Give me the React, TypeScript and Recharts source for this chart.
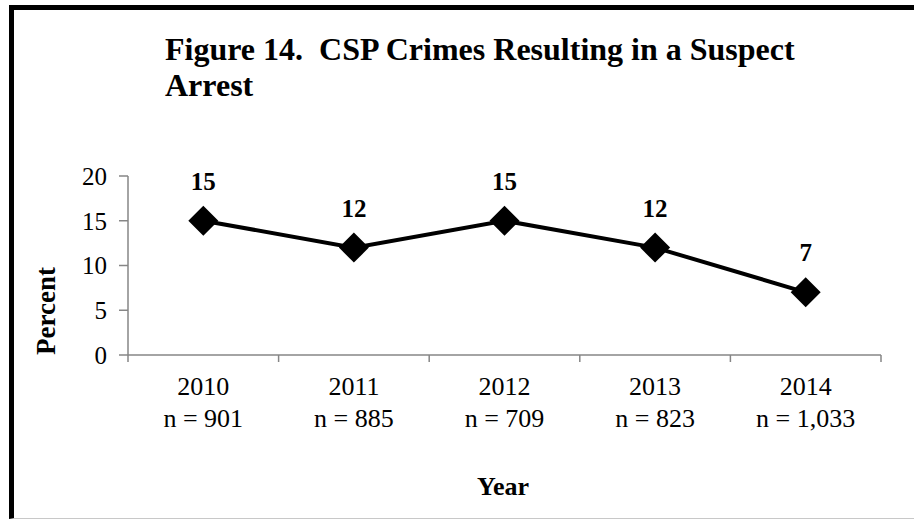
import { LineChart, Line, XAxis, YAxis, LabelList } from 'recharts'

const years = ['2010', '2011', '2012', '2013', '2014']
const counts = ['n = 901', 'n = 885', 'n = 709', 'n = 823', 'n = 1,033']
const percents = [15, 12, 15, 12, 7]
const yTicks = [0, 5, 10, 15, 20]

const data = years.map((year, i) => ({ year, n: counts[i], pos: i + 0.5, pct: percents[i] }))
// boundaries between categories carry the tick marks, centres carry the labels
const xTicks = [...years.map((_, i) => i), years.length, ...data.map(d => d.pos)].sort((a, b) => a - b)

const font = '"Liberation Serif", "Times New Roman", serif'
const axisColor = '#868686'

const XTick = (props: any) => {
  const { x, y, payload } = props
  const v = payload.value
  if (Number.isInteger(v)) {
    return <line x1={x} x2={x} y1={y} y2={y + 7} stroke={axisColor} strokeWidth={1.5} />
  }
  const d = data[Math.floor(v)]
  return (
    <g style={{ fontFamily: font, fontSize: 26 }} fill="#000">
      <text x={x} y={y + 40} textAnchor="middle">{d.year}</text>
      <text x={x} y={y + 72} textAnchor="middle">{d.n}</text>
    </g>
  )
}

const Diamond = (props: any) => {
  const { cx, cy, index } = props
  const r = 15
  return (
    <polygon
      key={index}
      points={`${cx},${cy - r} ${cx + r},${cy} ${cx},${cy + r} ${cx - r},${cy}`}
      fill="#000"
    />
  )
}

export default function App() {
  return (
    <div style={{ position: 'absolute', left: 0, top: 0, width: 914, height: 521, background: '#fff', overflow: 'hidden' }}>
      <div
        style={{
          position: 'absolute', left: 9, top: 5, width: 940, height: 508,
          borderTop: '5px solid #000', borderLeft: '5px solid #000', borderBottom: '1px solid #c8c8c8',
        }}
      />
      <div
        style={{
          position: 'absolute', left: 165, top: 31, fontFamily: font, fontWeight: 'bold',
          fontSize: 32, lineHeight: '36px', whiteSpace: 'pre', color: '#000',
        }}
      >
        {'Figure 14.  CSP Crimes Resulting in a Suspect\nArrest'}
      </div>
      <div
        style={{
          position: 'absolute', left: 46, top: 311, transform: 'translate(-50%, -50%) rotate(-90deg)',
          fontFamily: font, fontWeight: 'bold', fontSize: 27, whiteSpace: 'nowrap', color: '#000',
        }}
      >
        Percent
      </div>
      <div
        style={{
          position: 'absolute', left: 503, top: 487, transform: 'translate(-50%, -50%)',
          fontFamily: font, fontWeight: 'bold', fontSize: 26, whiteSpace: 'nowrap', color: '#000',
        }}
      >
        Year
      </div>
      <div style={{ position: 'absolute', left: 0, top: 0 }}>
        <LineChart width={914} height={521} data={data} margin={{ top: 176, right: 33, left: 28, bottom: 66 }}>
          <XAxis
            type="number"
            dataKey="pos"
            domain={[0, years.length]}
            ticks={xTicks}
            interval={0}
            tick={<XTick />}
            tickLine={false}
            tickSize={0}
            tickMargin={0}
            axisLine={{ stroke: axisColor, strokeWidth: 1.5 }}
            height={100}
          />
          <YAxis
            domain={[0, 20]}
            ticks={yTicks}
            interval={0}
            width={100}
            tickSize={9}
            tickMargin={12}
            tickLine={{ stroke: axisColor, strokeWidth: 1.5 }}
            axisLine={{ stroke: axisColor, strokeWidth: 1.5 }}
            tick={{ style: { fontFamily: font, fontSize: 25 }, fill: '#000' }}
          />
          <Line
            dataKey="pct"
            stroke="#000"
            strokeWidth={4}
            dot={Diamond}
            activeDot={false}
            isAnimationActive={false}
          >
            <LabelList
              dataKey="pct"
              position="top"
              offset={31}
              style={{ fontFamily: font, fontSize: 25, fontWeight: 'bold', fill: '#000' }}
            />
          </Line>
        </LineChart>
      </div>
    </div>
  )
}
